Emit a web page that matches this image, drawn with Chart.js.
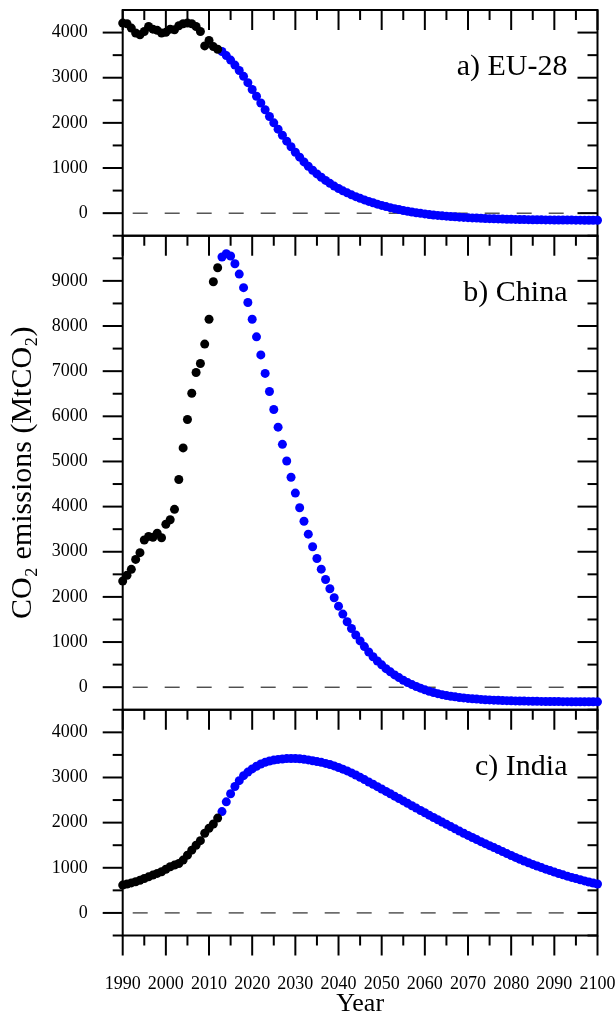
<!DOCTYPE html>
<html>
<head>
<meta charset="utf-8">
<title>CO2 emissions pathways</title>
<script src="https://cdn.jsdelivr.net/npm/chart.js@4.4.1/dist/chart.umd.min.js"></script>
<style>
  html, body { margin: 0; padding: 0; background: #fff; }
  #wrap { width: 616px; height: 1021px; }
</style>
</head>
<body>
<div id="wrap"><canvas id="emissionsChart" width="616" height="1021"></canvas></div>
<script>
// years: historical 1990-2012, scenario 2013-2100
var histStart = 1990;
var projStart = 2013;

// a) EU-28
var euHist = [4210, 4195, 4100, 3990, 3950, 4025, 4135, 4075, 4050, 3990, 4005, 4075,
  4060, 4150, 4195, 4210, 4195, 4135, 4025, 3705, 3825, 3690, 3630];
var euProj = [3580, 3490, 3390, 3280, 3160, 3030, 2890, 2740, 2590, 2440,
  2290, 2140, 2000, 1860, 1725, 1595, 1470, 1350, 1240, 1135,
  1040, 950, 870, 795, 725, 660, 600, 545, 495, 450,
  405, 365, 328, 293, 260, 230, 200, 172, 146, 122,
  100, 80, 60, 42, 25, 10, -4, -17, -29, -40,
  -50, -59, -67, -75, -82, -88, -94, -100, -105, -110,
  -114, -118, -122, -125, -128, -131, -134, -136, -138, -140,
  -142, -144, -146, -147, -148, -149, -150, -151, -152, -153,
  -154, -154, -155, -155, -156, -156, -157, -157];

// b) China
var chinaHist = [2350, 2480, 2610, 2830, 2980, 3260, 3340, 3320, 3410, 3310, 3610, 3710,
  3940, 4600, 5300, 5930, 6510, 6970, 7170, 7600, 8150, 8980, 9290];
var chinaProj = [9530, 9600, 9550, 9380, 9150, 8850, 8520, 8150, 7760, 7360,
  6950, 6550, 6150, 5760, 5380, 5010, 4650, 4300, 3975, 3675,
  3390, 3110, 2850, 2615, 2385, 2180, 1980, 1795, 1620, 1450,
  1300, 1155, 1025, 900, 780, 675, 580, 495, 410, 340,
  272, 212, 155, 102, 57, 15, -22, -58, -90, -118,
  -143, -165, -184, -200, -214, -227, -238, -248, -256, -264,
  -271, -277, -282, -287, -291, -295, -298, -301, -304, -306,
  -308, -310, -312, -314, -315, -316, -317, -318, -319, -320,
  -321, -322, -322, -323, -323, -324, -324, -325];

// c) India
var indiaHist = [616, 640, 665, 690, 725, 762, 800, 838, 875, 911, 968, 1022,
  1060, 1096, 1170, 1280, 1390, 1500, 1600, 1765, 1875, 1970, 2100];
var indiaProj = [2244, 2460, 2640, 2800, 2930, 3040, 3120, 3190, 3250, 3300,
  3335, 3365, 3385, 3400, 3410, 3418, 3420, 3420, 3415, 3405,
  3390, 3372, 3352, 3335, 3312, 3287, 3256, 3222, 3185, 3145,
  3102, 3056, 3004, 2953, 2901, 2849, 2797, 2745, 2692, 2640,
  2587, 2534, 2481, 2428, 2375, 2322, 2270, 2218, 2166, 2114,
  2063, 2012, 1962, 1912, 1862, 1813, 1765, 1717, 1670, 1624,
  1579, 1534, 1490, 1447, 1403, 1358, 1315, 1272, 1230, 1190,
  1150, 1112, 1075, 1039, 1004, 970, 937, 905, 874, 844,
  815, 787, 760, 734, 709, 685, 662, 640];

var panelLabels = ['a) EU-28', 'b) China', 'c) India'];
var panelAxes = ['yEU', 'yChina', 'yIndia'];
var panelRanges = [[-500, 4500], [-500, 10000], [-500, 4500]];

var serif = "'Liberation Serif', 'Times New Roman', serif";
Chart.defaults.font.family = serif;
Chart.defaults.color = '#000';

function toPoints(values, start) {
  return values.map(function(v, i) { return { x: start + i, y: v }; });
}

function seriesSet(values, start, axis, color) {
  return {
    data: toPoints(values, start),
    yAxisID: axis,
    backgroundColor: color,
    borderWidth: 0,
    pointRadius: 4.5,
    pointBorderWidth: 0,
    clip: false
  };
}

function panelAxis(index, order) {
  var min = panelRanges[index][0], max = panelRanges[index][1];
  return {
    type: 'linear',
    position: 'left',
    stack: 'panels',
    stackWeight: max - min,
    weight: order,
    min: min,
    max: max,
    ticks: {
      stepSize: 500,
      autoSkip: false,
      padding: 15,
      font: { size: 18 },
      callback: function(v) { return (v % 1000 === 0 && v >= 0 && v < max) ? String(v) : ''; }
    },
    grid: { drawOnChartArea: false, tickLength: 20, tickColor: 'rgba(0,0,0,0)' },
    border: { display: false },
    afterFit: function(scale) {
      scale.width = 118;
      scale.paddingTop = 0;
      scale.paddingBottom = 0;
    }
  };
}

// frames, tick marks, zero lines and panel labels
var panelDecor = {
  id: 'panelDecor',
  beforeDatasetsDraw: function(chart) {
    var ctx = chart.ctx;
    var area = chart.chartArea;
    var xs = chart.scales.x;
    function seg(x1, y1, x2, y2) {
      ctx.beginPath(); ctx.moveTo(x1, y1); ctx.lineTo(x2, y2); ctx.stroke();
    }
    ctx.save();
    ctx.strokeStyle = '#000';
    panelAxes.forEach(function(id, i) {
      var ys = chart.scales[id];
      var y0 = ys.getPixelForValue(0);
      ctx.lineWidth = 1;
      ctx.setLineDash([15, 17]);
      ctx.lineDashOffset = 22;
      seg(area.left, y0, area.right, y0);
      ctx.setLineDash([]);

      ctx.lineWidth = 2;
      ctx.strokeRect(area.left, ys.top, area.right - area.left, ys.bottom - ys.top);
      ys.ticks.forEach(function(t) {
        if (t.value >= ys.max) return;
        var py = ys.getPixelForValue(t.value);
        var len = t.value % 1000 === 0 ? 20 : 10;
        seg(area.left - len, py, area.left, py);
        seg(area.right - len, py, area.right, py);
      });
      xs.ticks.forEach(function(t) {
        var px = xs.getPixelForValue(t.value);
        var len = t.value % 10 === 0 ? 20 : 10;
        seg(px, ys.top, px, ys.top + len);
      });

      ctx.fillStyle = '#000';
      ctx.font = '30px ' + serif;
      ctx.textAlign = 'right';
      ctx.textBaseline = 'alphabetic';
      ctx.fillText(panelLabels[i], area.right - 30, ys.top + 65);
    });
    xs.ticks.forEach(function(t) {
      var px = xs.getPixelForValue(t.value);
      var len = t.value % 10 === 0 ? 20 : 10;
      seg(px, area.bottom, px, area.bottom + len);
    });
    ctx.restore();
  }
};

var ctx = document.getElementById('emissionsChart').getContext('2d');
var yEU = panelAxis(0, 3);
var yChina = panelAxis(1, 2);
var yIndia = panelAxis(2, 1);
yChina.title = {
  display: true,
  text: 'CO₂ emissions (MtCO₂)',
  font: { size: 30 },
  padding: { top: 0, bottom: 0 }
};

var emissionsChart = new Chart(ctx, {
  type: 'scatter',
  data: {
    datasets: [
      seriesSet(euHist, histStart, 'yEU', '#000000'),
      seriesSet(euProj, projStart, 'yEU', '#0000ff'),
      seriesSet(chinaHist, histStart, 'yChina', '#000000'),
      seriesSet(chinaProj, projStart, 'yChina', '#0000ff'),
      seriesSet(indiaHist, histStart, 'yIndia', '#000000'),
      seriesSet(indiaProj, projStart, 'yIndia', '#0000ff')
    ]
  },
  options: {
    responsive: false,
    animation: false,
    events: [],
    layout: { padding: { left: 4.7, right: 18.5, top: 10, bottom: 0 } },
    plugins: { legend: { display: false }, tooltip: { enabled: false } },
    scales: {
      x: {
        type: 'linear',
        position: 'bottom',
        min: 1990,
        max: 2100,
        ticks: {
          stepSize: 5,
          autoSkip: false,
          maxRotation: 0,
          padding: 17.5,
          font: { size: 18 },
          callback: function(v) { return v % 10 === 0 ? String(v) : ''; }
        },
        grid: { drawOnChartArea: false, tickLength: 20, tickColor: 'rgba(0,0,0,0)' },
        border: { display: false },
        title: { display: true, text: 'Year', font: { size: 26 }, padding: { top: 0, bottom: 1.5 } },
        afterFit: function(scale) {
          scale.height = 85.5;
          scale.paddingLeft = 0;
          scale.paddingRight = 0;
        }
      },
      yEU: yEU,
      yChina: yChina,
      yIndia: yIndia
    }
  },
  plugins: [panelDecor]
});
</script>
</body>
</html>
